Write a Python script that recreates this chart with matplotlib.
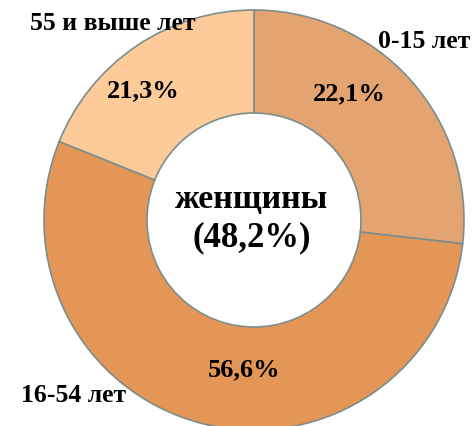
import matplotlib
matplotlib.use('Agg')
import matplotlib.pyplot as plt

# данные
groups = ['0-15 лет', '16-54 лет', '55 и выше лет']
pct_labels = ['22,1%', '56,6%', '21,3%']
# доли секторов, как они нарисованы на картинке
shares = [26.8, 54.3, 18.9]
colors = ['#E3A472', '#E49657', '#FDCA9A']
center_text = ['женщины', '(48,2%)']

W, H = 476, 427
fig = plt.figure(figsize=(W / 100, H / 100), dpi=100)
ax = fig.add_axes([0, 0, 1, 1])

cx, cy = 254, H - 221
R = 210
wedges, _ = ax.pie(shares, colors=colors, startangle=90, counterclock=False,
                   radius=R, center=(cx, cy),
                   wedgeprops=dict(width=R - 107, edgecolor='#7C8E8C', linewidth=1.2))

ax.set_xlim(0, W)
ax.set_ylim(0, H)
ax.set_aspect('equal')
ax.axis('off')

font = dict(family='Liberation Serif', fontweight='bold', color='black')

# подписи групп
group_pos = [(424, 42), (74, 396), (113, 23)]
for name, (x, y) in zip(groups, group_pos):
    ax.text(x, H - y, name, ha='center', va='center', fontsize=18.5, **font)

# проценты в секторах
pct_pos = [(349, 94), (244, 370), (143, 91)]
for t, (x, y) in zip(pct_labels, pct_pos):
    ax.text(x, H - y, t, ha='center', va='center', fontsize=19, **font)

# центр
ax.text(252, H - 200, center_text[0], ha='center', va='center', fontsize=24.5, **font)
ax.text(252, H - 238, center_text[1], ha='center', va='center', fontsize=25, **font)

fig.savefig('out.png', dpi=100)
